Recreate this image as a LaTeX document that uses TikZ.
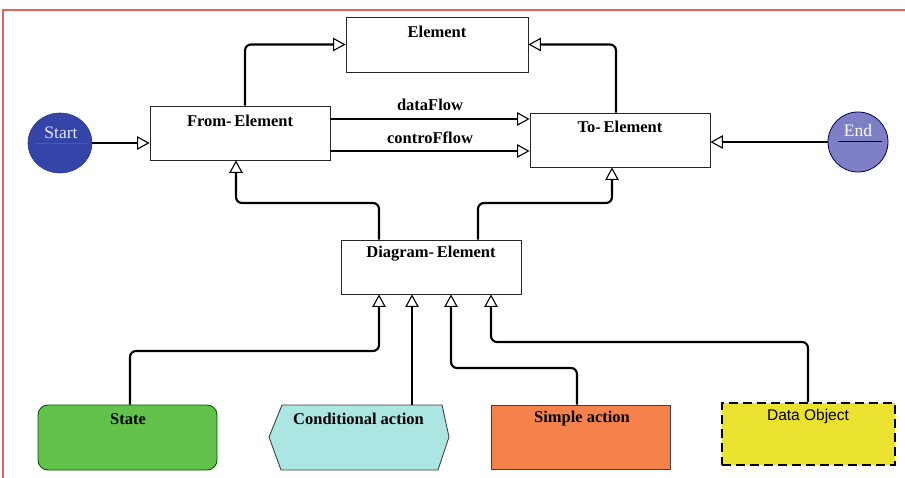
\documentclass[tikz,border=0pt]{standalone}
\usepackage{fontspec}
\setmainfont{Liberation Serif}
\newfontfamily\arialish{Liberation Sans}
\usetikzlibrary{arrows.meta,shapes.geometric}

\definecolor{startblue}{HTML}{3444A8}
\definecolor{endlav}{HTML}{7F7FC6}
\definecolor{stategreen}{HTML}{62C24C}
\definecolor{condcyan}{HTML}{ABE6E2}
\definecolor{simpleorange}{HTML}{F5824A}
\definecolor{datayellow}{HTML}{EAE22E}
\definecolor{frame}{HTML}{E06464}

\begin{document}
\begin{tikzpicture}[x=1pt,y=-1pt,
  ubox/.style={draw=black!85, line width=0.9pt, fill=white,
    minimum width=180pt, minimum height=54pt, inner sep=0pt},
  ttl/.style={font=\fontsize{16.5}{18}\selectfont\bfseries, inner sep=0pt},
  link/.style={line width=2.1pt, rounded corners=6pt,
    -{Triangle[fill=white, length=12.5pt, width=13.5pt, line width=1.1pt]}},
]
% page
\fill[white] (0,0) rectangle (905,478);
\useasboundingbox (0,0) rectangle (905,478);
\draw[frame, line width=1.2pt] (3,478) -- (3,10) -- (905,10);

% class boxes
\node[ubox, minimum width=182pt, minimum height=55pt] (elem) at (437,44.5) {};
\node[ttl] (elemT) at (437,32) {Element};
\node[ubox] (from) at (240,133) {};
\node[ttl] (fromT) at (240,121) {From-\,Element};
\node[ubox] (to) at (620,140) {};
\node[ttl] (toT) at (620,127) {To-\,Element};
\node[ubox] (diag) at (431,267) {};
\node[ttl] (diagT) at (431,254) {Diagram-\,Element};

% start / end states
\node[ellipse, fill=startblue, draw=startblue!80!black, line width=0.6pt,
  minimum width=64pt, minimum height=60pt, inner sep=0pt] (start) at (60,143) {};
\node[font=\fontsize{17.5}{19}\selectfont, text=white!90!blue, inner sep=0pt] (startT) at (61,133) {Start};
\draw[draw=violet!80!white, line width=1pt] (36,144) -- (87,144);
\node[circle, fill=endlav, draw=black!70!blue, line width=0.8pt,
  minimum size=60pt, inner sep=0pt] (end) at (858,142) {};
\node[font=\fontsize{17.5}{19}\selectfont, text=white, inner sep=0pt] (endT) at (858,131) {End};
\draw[draw=black!70!blue, line width=1pt] (838,142) -- (882,142);

% element kinds
\node[draw=green!35!black, fill=stategreen, line width=0.9pt, rounded corners=10pt,
  minimum width=179pt, minimum height=65pt, inner sep=0pt] (state) at (127.5,437.5) {};
\node[ttl] (stateT) at (128,419) {State};

\node[minimum width=180pt, minimum height=65pt, inner sep=0pt] (cond) at (359,437.5) {};
\draw[fill=condcyan, draw=black!75, line width=0.9pt]
  (269,437) -- (282,405) -- (442,405) -- (449,437) -- (438,470) -- (281,470) -- cycle;
\node[ttl] (condT) at (358.5,419) {Conditional action};

\node[draw=black!75, fill=simpleorange, line width=0.9pt,
  minimum width=179pt, minimum height=64pt, inner sep=0pt] (simple) at (580.5,437) {};
\node[ttl] (simpleT) at (582,419) {Simple action};

\node[draw=black, fill=datayellow, line width=2pt, dash pattern=on 9pt off 5pt,
  minimum width=173pt, minimum height=62pt, inner sep=0pt] (data) at (808.5,434) {};
\node[font=\arialish\fontsize{15.5}{17}\selectfont, inner sep=0pt] (dataT) at (808,416) {Data Object};

% connectors
\draw[link] (start.east) -- (start.east -| from.west);
\draw[link] (from.north -| 245,0) |- (elem.west);
\draw[link] (to.north -| 616,0) |- (elem.east);
\draw[link] (from.east |- 0,119) -- (to.west |- 0,119)
  node[ttl, midway, above=7pt] (dfT) {dataFlow};
\draw[link] (from.east |- 0,151) -- (to.west |- 0,151)
  node[ttl, midway, above=6pt] (cfT) {controFflow};
\draw[link] (end.west) -- (end.west -| to.east);
\draw[link] (diag.north -| 379,0) -- (379,203) -- (236,203) -- (from.south -| 236,0);
\draw[link] (diag.north -| 478,0) -- (478,203) -- (612,203) -- (to.south -| 612,0);
\draw[link] (state.north -| 130,0) -- (130,351) -- (379,351) -- (diag.south -| 379,0);
\draw[link] (cond.north -| 412,0) -- (diag.south -| 412,0);
\draw[link] (simple.north -| 577,0) -- (577,368) -- (451,368) -- (diag.south -| 451,0);
\draw[link] (data.north -| 808,0) -- (808,342) -- (491,342) -- (diag.south -| 491,0);
\end{tikzpicture}
\end{document}
